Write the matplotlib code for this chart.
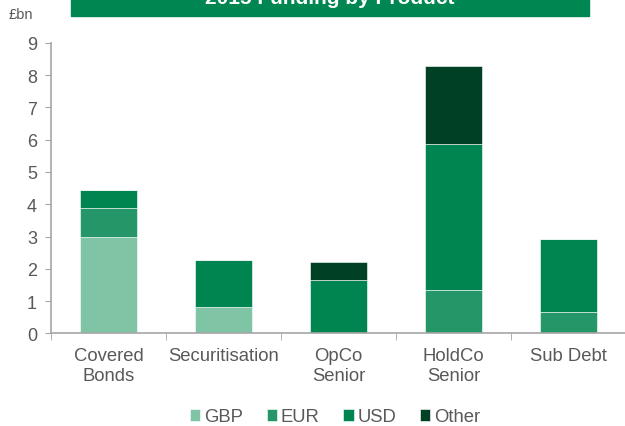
import numpy as np
import matplotlib
matplotlib.use("Agg")
import matplotlib.pyplot as plt
from matplotlib.patches import Rectangle

plt.rcParams['font.family'] = ['Liberation Sans', 'DejaVu Sans']

# data (GBP bn)
categories = ["Covered\nBonds", "Securitisation", "OpCo\nSenior", "HoldCo\nSenior", "Sub Debt"]
gbp = [3.00, 0.80, 0.00, 0.00, 0.00]
eur = [0.88, 0.00, 0.00, 1.34, 0.66]
usd = [0.57, 1.47, 1.65, 4.52, 2.26]
other = [0.00, 0.00, 0.56, 2.42, 0.00]
series_names = ["GBP", "EUR", "USD", "Other"]

colors = ["#80C4A6", "#249668", "#008550", "#004126"]
text_col = "#595959"
axis_col = "#A6A6A6"

fig = plt.figure(figsize=(6.25, 4.27), dpi=100)
ax = fig.add_axes([51 / 625, 92.7 / 427, 575 / 625, 290.4 / 427])

x = np.arange(len(categories))
bottom = np.zeros(len(categories))
for name, vals, col in zip(series_names, [gbp, eur, usd, other], colors):
    vals = np.array(vals)
    ax.bar(x, vals, width=0.49, bottom=bottom, color=col, label=name,
           edgecolor="white", linewidth=0.4)
    bottom += vals

ax.set_xlim(-0.5, 4.5)
ax.set_ylim(0, 9)
ax.set_yticks(range(0, 10))
ax.set_xticks(x)
ax.set_xticklabels(categories, fontsize=13.3, color=text_col, linespacing=1.25)
ax.set_xticks(np.arange(-0.5, 4.6, 1), minor=True)
ax.tick_params(axis="x", which="major", length=0, pad=10)
ax.tick_params(axis="x", which="minor", length=5, color=axis_col, direction="out")
ax.tick_params(axis="y", length=4, color=axis_col, labelsize=13,
               labelcolor=text_col, pad=6)

for s in ["top", "right"]:
    ax.spines[s].set_visible(False)
for s in ["left", "bottom"]:
    ax.spines[s].set_color(axis_col)
    ax.spines[s].set_linewidth(1.2)

# unit label
fig.text(21 / 625, 1 - 15 / 427, "£bn", ha="center", va="center",
         fontsize=10.5, color=text_col)

# title banner (cut off at the top of the image)
fig.patches.append(Rectangle((71 / 625, 1 - 17 / 427), 518 / 625, 17 / 427 + 0.01,
                             transform=fig.transFigure, color="#008751", zorder=0))
fig.text(330 / 625, 1 - 3.5 / 427, "2015 Funding by Product", ha="center",
         va="baseline", fontsize=15, fontweight="bold", color="white")

fig.legend(loc="center", bbox_to_anchor=(335 / 625, 9 / 427), ncol=4,
           frameon=False, fontsize=13.3, handlelength=0.55, handleheight=0.55,
           handletextpad=0.2, columnspacing=1.3, labelcolor=text_col,
           borderpad=0.05, borderaxespad=0)

fig.savefig("out.png", dpi=100)
